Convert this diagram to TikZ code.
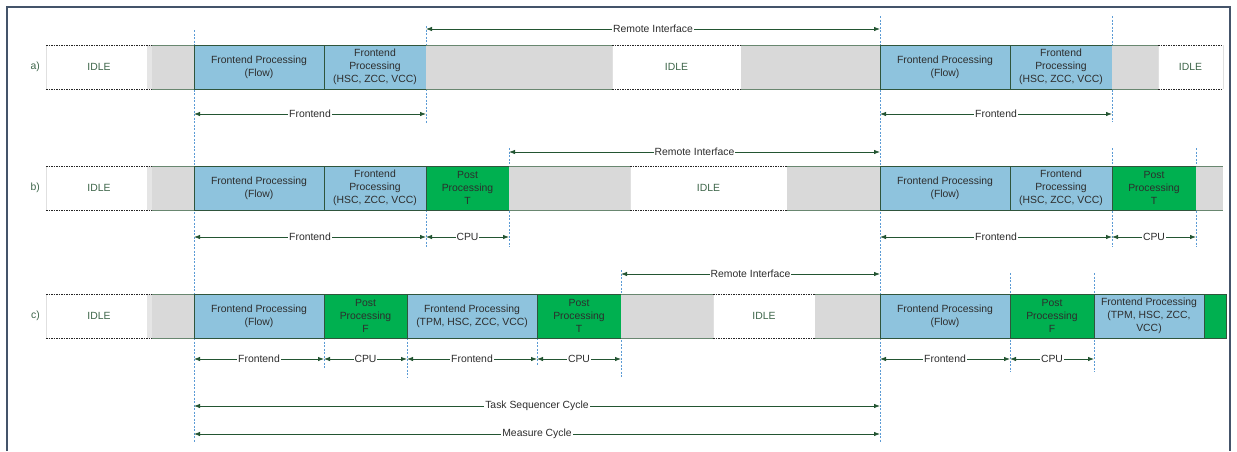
\documentclass[tikz,border=0pt]{standalone}
\usepackage{fontspec}
\setmainfont{Liberation Sans}
\setsansfont{Liberation Sans}
\definecolor{feblue}{RGB}{142,195,221}
\definecolor{ppgreen}{RGB}{0,176,80}
\definecolor{waitgray}{RGB}{217,217,217}
\definecolor{boxline}{RGB}{47,85,60}
\definecolor{waitline}{RGB}{105,135,112}
\definecolor{dimgreen}{RGB}{35,85,50}
\definecolor{idletext}{RGB}{60,100,72}
\definecolor{guideblue}{RGB}{91,155,213}
\definecolor{framegray}{RGB}{68,84,106}
\definecolor{labeltext}{RGB}{45,45,45}
\usetikzlibrary{positioning,backgrounds,arrows.meta}
\tikzset{every picture/.style={/utils/exec={\sffamily\fontsize{10.4}{13.3}\selectfont}}}
\tikzset{
  phase/.style={minimum height=44pt, inner sep=0pt, outer sep=0pt, align=center, text=labeltext},
  fe/.style={phase, fill=feblue, draw=boxline, line width=0.8pt},
  pp/.style={phase, fill=ppgreen, draw=boxline, line width=0.8pt},
  wait/.style={phase, fill=waitgray, append after command={
      (\tikzlastnode.north west) edge[draw=waitline, line width=0.8pt] (\tikzlastnode.north east)
      (\tikzlastnode.south west) edge[draw=waitline, line width=0.8pt] (\tikzlastnode.south east)}},
  idle/.style={phase, fill=white, text=idletext, append after command={
      (\tikzlastnode.north west) edge[draw=black!12, line width=0.6pt] (\tikzlastnode.south west)
      (\tikzlastnode.north east) edge[draw=black!12, line width=0.6pt] (\tikzlastnode.south east)
      (\tikzlastnode.north west) edge[draw=black!85, dash pattern=on 1.5pt off 1pt, line width=0.8pt] (\tikzlastnode.north east)
      (\tikzlastnode.south west) edge[draw=black!85, dash pattern=on 1.5pt off 1pt, line width=0.8pt] (\tikzlastnode.south east)}},
  idlestrip/.style={path picture={\fill[black!10] ([xshift=-5pt]path picture bounding box.north east) rectangle (path picture bounding box.south east);}},
  rowlbl/.style={text=idletext, inner sep=0pt},
  dim/.style={{Latex[length=6pt,width=4.5pt]}-{Latex[length=6pt,width=4.5pt]}, draw=dimgreen, line width=0.8pt},
  dimlbl/.style={midway, fill=white, inner sep=1pt, text=labeltext},
  guide/.style={draw=guideblue, line width=0.7pt, dash pattern=on 2pt off 1.5pt},
}

\begin{document}
\begin{tikzpicture}[x=1pt, y=-1pt]
  \useasboundingbox (0,0) rectangle (1237,451);
  \draw[framegray, line width=2.5pt] (7,451) -- (7,7) -- (1230,7) -- (1230,451);

  % row a
  \node[idle, idlestrip, minimum width=106pt] (aidle1) at (99,67) {IDLE};
  \node[rowlbl, left=6pt of aidle1] (alabel) {a)};
  \node[wait, minimum width=42pt, right=0pt of aidle1] (await1) {};
  \node[fe, minimum width=130pt, right=0pt of await1] (aflow1) {Frontend Processing\\(Flow)};
  \node[fe, minimum width=102pt, right=0pt of aflow1] (ahsc1) {Frontend\\Processing\\(HSC, ZCC, VCC)};
  \node[wait, minimum width=186pt, right=0pt of ahsc1] (await2) {};
  \node[idle, minimum width=129pt, right=0pt of await2] (aidle2) {IDLE};
  \node[wait, minimum width=139pt, right=0pt of aidle2] (await3) {};
  \node[fe, minimum width=130pt, right=0pt of await3] (aflow2) {Frontend Processing\\(Flow)};
  \node[fe, minimum width=102pt, right=0pt of aflow2] (ahsc2) {Frontend\\Processing\\(HSC, ZCC, VCC)};
  \node[wait, minimum width=46pt, right=0pt of ahsc2] (await4) {};
  \node[idle, minimum width=65pt, right=0pt of await4] (aidle3) {IDLE};

  \draw[dim] ([yshift=16pt]ahsc1.north east) -- ([yshift=16pt]aflow2.north west) node[dimlbl] (arem) {Remote Interface};
  \draw[dim] ([yshift=-25pt]aflow1.south west) -- ([yshift=-25pt]ahsc1.south east) node[dimlbl] (afe1) {Frontend};
  \draw[dim] ([yshift=-25pt]aflow2.south west) -- ([yshift=-25pt]ahsc2.south east) node[dimlbl] (afe2) {Frontend};

  % row b
  \node[idle, idlestrip, minimum width=106pt] (bidle1) at (99,188) {IDLE};
  \node[rowlbl, left=6pt of bidle1] (blabel) {b)};
  \node[wait, minimum width=42pt, right=0pt of bidle1] (bwait1) {};
  \node[fe, minimum width=130pt, right=0pt of bwait1] (bflow1) {Frontend Processing\\(Flow)};
  \node[fe, minimum width=102pt, right=0pt of bflow1] (bhsc1) {Frontend\\Processing\\(HSC, ZCC, VCC)};
  \node[pp, minimum width=83pt, right=0pt of bhsc1] (bpost1) {Post\\Processing\\T};
  \node[wait, minimum width=121pt, right=0pt of bpost1] (bwait2) {};
  \node[idle, minimum width=157pt, right=0pt of bwait2] (bidle2) {IDLE};
  \node[wait, minimum width=93pt, right=0pt of bidle2] (bwait3) {};
  \node[fe, minimum width=130pt, right=0pt of bwait3] (bflow2) {Frontend Processing\\(Flow)};
  \node[fe, minimum width=102pt, right=0pt of bflow2] (bhsc2) {Frontend\\Processing\\(HSC, ZCC, VCC)};
  \node[pp, minimum width=84pt, right=0pt of bhsc2] (bpost2) {Post\\Processing\\T};
  \node[wait, minimum width=27pt, right=0pt of bpost2] (bwait4) {};

  \draw[dim] ([yshift=14pt]bpost1.north east) -- ([yshift=14pt]bflow2.north west) node[dimlbl] (brem) {Remote Interface};
  \draw[dim] ([yshift=-27pt]bflow1.south west) -- ([yshift=-27pt]bhsc1.south east) node[dimlbl] (bfe1) {Frontend};
  \draw[dim] ([yshift=-27pt]bpost1.south west) -- ([yshift=-27pt]bpost1.south east) node[dimlbl] (bcpu1) {CPU};
  \draw[dim] ([yshift=-27pt]bflow2.south west) -- ([yshift=-27pt]bhsc2.south east) node[dimlbl] (bfe2) {Frontend};
  \draw[dim] ([yshift=-27pt]bpost2.south west) -- ([yshift=-27pt]bpost2.south east) node[dimlbl] (bcpu2) {CPU};

  % row c
  \node[idle, idlestrip, minimum width=106pt] (cidle1) at (99,316) {IDLE};
  \node[rowlbl, left=6pt of cidle1] (clabel) {c)};
  \node[wait, minimum width=42pt, right=0pt of cidle1] (cwait1) {};
  \node[fe, minimum width=130pt, right=0pt of cwait1] (cflow1) {Frontend Processing\\(Flow)};
  \node[pp, minimum width=83pt, right=0pt of cflow1] (cpostf1) {Post\\Processing\\F};
  \node[fe, minimum width=130pt, right=0pt of cpostf1] (ctpm1) {Frontend Processing\\(TPM, HSC, ZCC, VCC)};
  \node[pp, minimum width=84pt, right=0pt of ctpm1] (cpostt1) {Post\\Processing\\T};
  \node[wait, minimum width=92pt, right=0pt of cpostt1] (cwait2) {};
  \node[idle, minimum width=102pt, right=0pt of cwait2] (cidle2) {IDLE};
  \node[wait, minimum width=65pt, right=0pt of cidle2] (cwait3) {};
  \node[fe, minimum width=130pt, right=0pt of cwait3] (cflow2) {Frontend Processing\\(Flow)};
  \node[pp, minimum width=84pt, right=0pt of cflow2] (cpostf2) {Post\\Processing\\F};
  \node[fe, minimum width=110pt, right=0pt of cpostf2] (ctpm2) {Frontend Processing\\(TPM, HSC, ZCC,\\VCC)};
  \node[pp, minimum width=22pt, right=0pt of ctpm2] (cpost3) {};

  \draw[dim] ([yshift=20pt]cpostt1.north east) -- ([yshift=20pt]cflow2.north west) node[dimlbl] (crem) {Remote Interface};
  \draw[dim] ([yshift=-21pt]cflow1.south west) -- ([yshift=-21pt]cflow1.south east) node[dimlbl] (cfe1) {Frontend};
  \draw[dim] ([yshift=-21pt]cpostf1.south west) -- ([yshift=-21pt]cpostf1.south east) node[dimlbl] (ccpu1) {CPU};
  \draw[dim] ([yshift=-21pt]ctpm1.south west) -- ([yshift=-21pt]ctpm1.south east) node[dimlbl] (cfe2) {Frontend};
  \draw[dim] ([yshift=-21pt]cpostt1.south west) -- ([yshift=-21pt]cpostt1.south east) node[dimlbl] (ccpu2) {CPU};
  \draw[dim] ([yshift=-21pt]cflow2.south west) -- ([yshift=-21pt]cflow2.south east) node[dimlbl] (cfe3) {Frontend};
  \draw[dim] ([yshift=-21pt]cpostf2.south west) -- ([yshift=-21pt]cpostf2.south east) node[dimlbl] (ccpu3) {CPU};

  \draw[dim] ([yshift=-68pt]cflow1.south west) -- ([yshift=-68pt]cflow2.south west) node[dimlbl] (tsc) {Task Sequencer Cycle};
  \draw[dim] ([yshift=-96pt]cflow1.south west) -- ([yshift=-96pt]cflow2.south west) node[dimlbl] (mc) {Measure Cycle};

  % guide lines
  \begin{scope}[on background layer]
    \draw[guide] ([yshift=15pt]aflow1.north west) -- ++(0,412);
    \draw[guide] ([yshift=29pt]aflow2.north west) -- ++(0,426);
    \draw[guide] ([yshift=19pt]ahsc1.north east) -- ++(0,97);
    \draw[guide] ([yshift=29pt]ahsc2.north east) -- ++(0,106);
    \draw[guide] (bhsc1.south east) -- ++(0,37);
    \draw[guide] ([yshift=18pt]bpost1.north east) -- ++(0,99);
    \draw[guide] ([yshift=18pt]bhsc2.north east) -- ++(0,99);
    \draw[guide] ([yshift=18pt]bpost2.north east) -- ++(0,99);
    \draw[guide] (cflow1.south east) -- ++(0,30);
    \draw[guide] (cpostf1.south east) -- ++(0,40);
    \draw[guide] (ctpm1.south east) -- ++(0,28);
    \draw[guide] ([yshift=24pt]cpostt1.north east) -- ++(0,108);
    \draw[guide] ([yshift=21pt]cflow2.north east) -- ++(0,99);
    \draw[guide] ([yshift=21pt]cpostf2.north east) -- ++(0,99);
  \end{scope}
\end{tikzpicture}
\end{document}
